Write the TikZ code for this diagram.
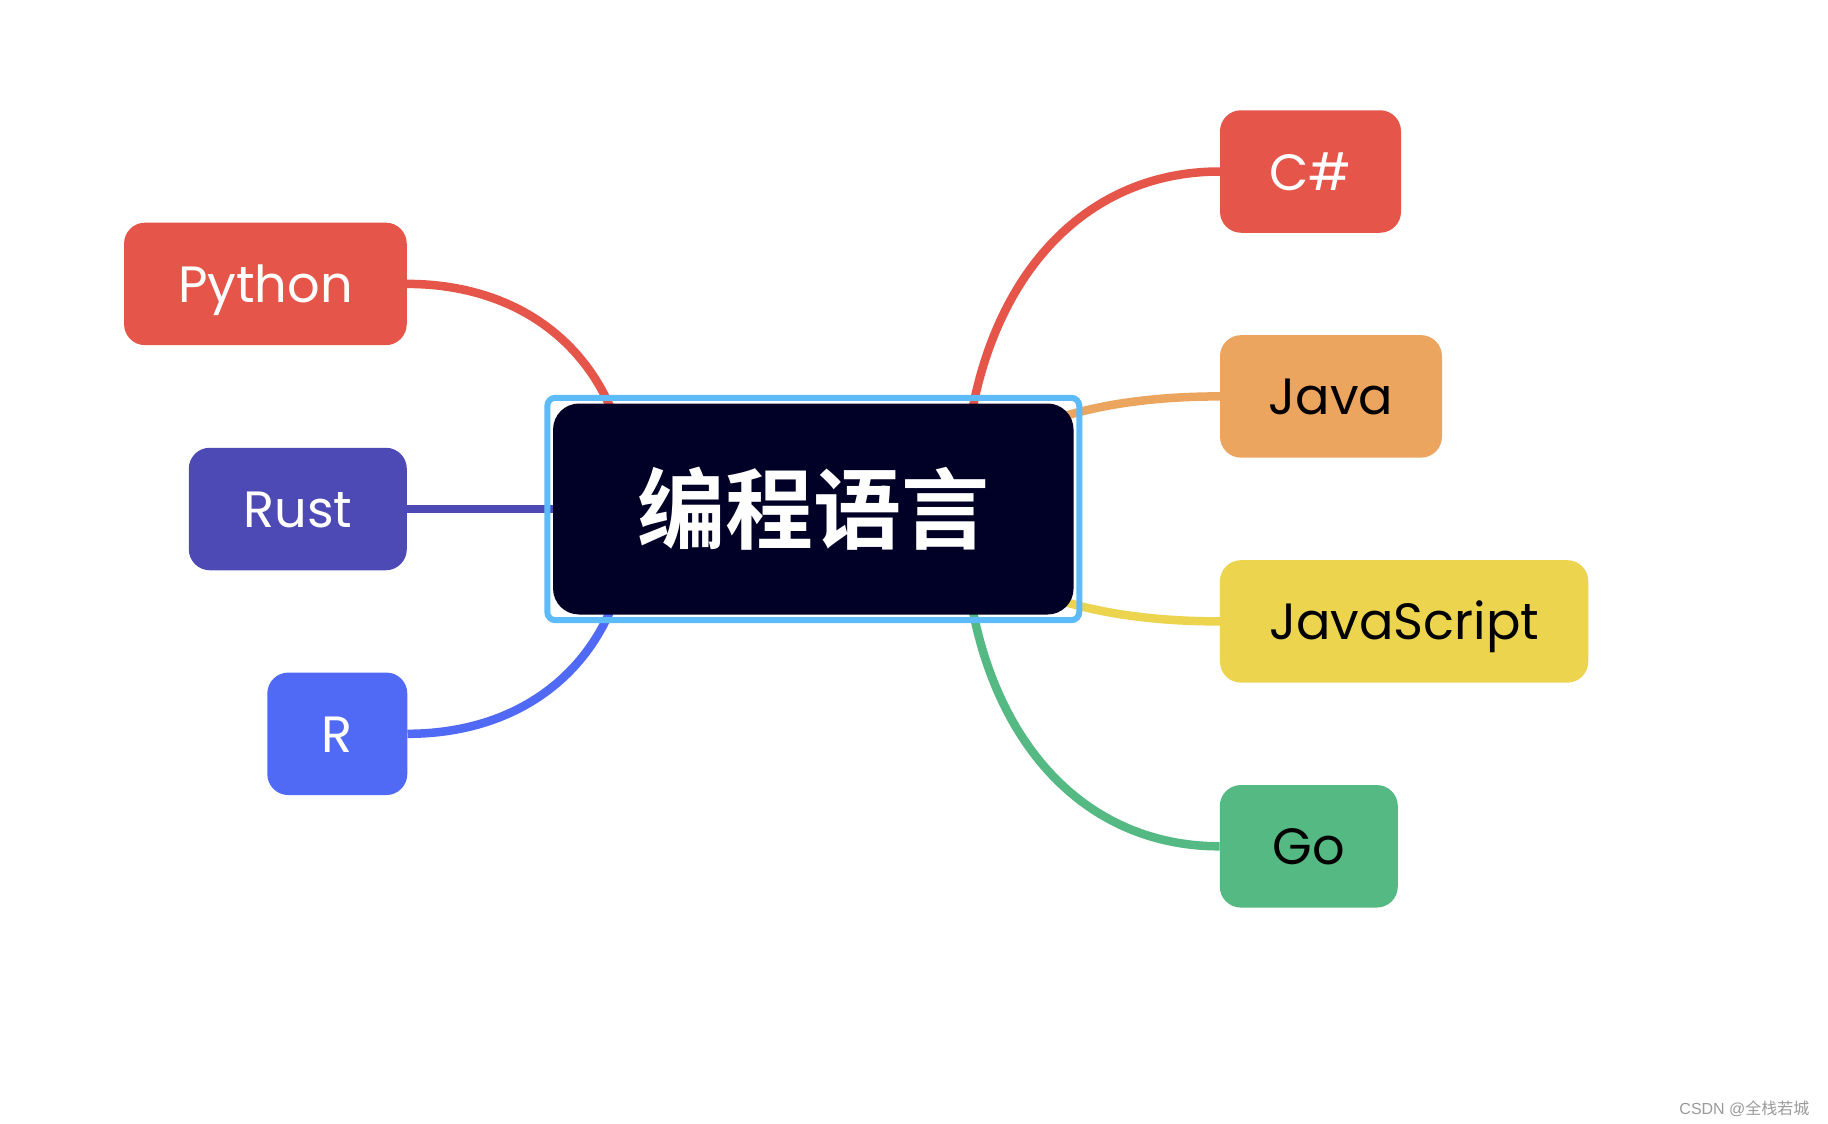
\documentclass[tikz,border=0pt]{standalone}
\usepackage{fontspec}
\setmainfont{Poppins}
\newfontfamily\leaffont{Poppins}
\newfontfamily\cjkbold{Noto Sans CJK SC Bold}
\newfontfamily\cjkreg{Noto Sans CJK SC}
\newfontfamily\wmlatin{Liberation Sans}
\usetikzlibrary{fit,calc}
\pgfdeclarelayer{bg}
\pgfsetlayers{bg,main}
\definecolor{cred}{HTML}{E5554A}
\definecolor{cjava}{HTML}{EBA55F}
\definecolor{cjs}{HTML}{EDD44F}
\definecolor{cgo}{HTML}{54B982}
\definecolor{crust}{HTML}{4D4AB5}
\definecolor{cr}{HTML}{506AF5}
\definecolor{cframe}{HTML}{5EBBF9}
\definecolor{croot}{HTML}{010128}
\definecolor{cwm}{HTML}{9A9A9A}
% #1 root anchor, #2 leaf anchor, #3 x offset of the hidden start, #4 colour
\newcommand\mmlink[4]{\draw[link,#4] let \p1=(#1), \p2=(#2), \p3=($(#1)+(#3,0)$) in
  (\p1) -- (\p3) .. controls (\x3,{\y1+0.6*(\y2-\y1)}) and ({\x2-0.6*(\x2-\x3)},\y2) .. (\p2);}
\tikzset{
  leaf/.style={rounded corners=21pt, minimum height=122.5pt, inner sep=0pt,
    text height=37pt, text depth=0pt, font=\leaffont\fontsize{51pt}{60pt}\selectfont},
  link/.style={line width=8.5pt, line join=round},
  rootbox/.style={fill=croot, rounded corners=26pt, inner sep=0pt,
    minimum width=520.5pt, minimum height=211pt, text=white,
    text height=67pt, text depth=0pt, font=\cjkbold\fontsize{88pt}{96pt}\selectfont},
  selframe/.style={draw=cframe, line width=6pt, rounded corners=8pt, inner sep=5.5pt},
  wmark/.style={anchor=base east, text=cwm, font=\wmlatin\fontsize{16pt}{18pt}\selectfont}
}
\begin{document}
\begin{tikzpicture}[x=1pt,y=-1pt]
\useasboundingbox (0,0) rectangle (1828,1124);

\node[rootbox] (root) at (813.3,509) {编程语言};

\node[leaf, fill=cred, text=white, minimum width=282.7pt] (py) at (265.4,283.9) {Python};
\node[leaf, fill=crust, text=white, minimum width=218pt] (rust) at (297.8,509) {Rust};
\node[leaf, fill=cr, text=white, minimum width=140pt] (r) at (337.3,733.8) {R};

\node[leaf, fill=cred, text=white, minimum width=181pt] (cs) at (1310.5,171.5) {C\#};
\node[leaf, fill=cjava, text=black, minimum width=222pt] (java) at (1331,396.4) {Java};
\node[leaf, fill=cjs, text=black, minimum width=368.3pt] (js) at (1404.1,621.4) {JavaScript};
\node[leaf, fill=cgo, text=black, minimum width=178pt] (go) at (1308.8,846.3) {Go};

\begin{pgfonlayer}{bg}
\fill[white] (0,0) rectangle (1828,1124);
\mmlink{root.center}{py.east}{-183}{cred}
\draw[link,crust] (root.center) -- (rust.east);
\mmlink{root.center}{r.east}{-183}{cr}
\mmlink{root.center}{cs.west}{150}{cred}
\mmlink{root.center}{java.west}{150}{cjava}
\mmlink{root.center}{js.west}{150}{cjs}
\mmlink{root.center}{go.west}{150}{cgo}
\node[selframe, fit=(root)] (sel) {};
\end{pgfonlayer}

\node[wmark] (wm) at (1813,1114) {CSDN @{\cjkreg 全栈若城}};
\end{tikzpicture}
\end{document}
